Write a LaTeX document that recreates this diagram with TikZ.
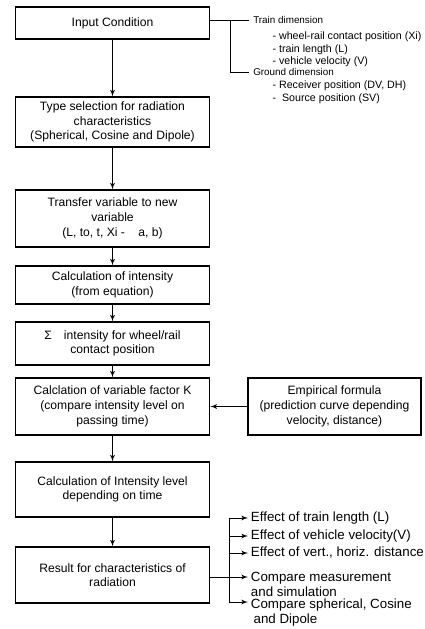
\documentclass[tikz,border=0pt]{standalone}
\usepackage{fontspec}
\setmainfont{Liberation Sans}
\usepackage{xcolor}
\usepackage{tikz}
\usetikzlibrary{arrows}

\tikzset{
  stepbox/.style={draw, line width=0.8pt, align=center, minimum width=146pt,
    font=\fontsize{9.1}{11}\selectfont},
  notetext/.style={align=left, inner sep=1pt, font=\fontsize{8}{9.4}\selectfont},
  notehead/.style={inner sep=1pt, inner xsep=3pt, font=\fontsize{7.4}{9.4}\selectfont},
  outtext/.style={align=left, inner sep=2pt, font=\fontsize{10}{11.25}\selectfont},
  link/.style={line width=0.7pt},
  flow/.style={line width=0.7pt, -latex'}
}

\begin{document}
\begin{tikzpicture}[x=0.75pt, y=-0.75pt]
\useasboundingbox (0,0) rectangle (425,629);

% Main steps
\node[stepbox, minimum height=24pt] (input) at (112.5,23) {Input Condition};
\node[stepbox, minimum height=37.5pt] (type) at (112.5,122)
  {Type selection for radiation\\characteristics\\(Spherical, Cosine and Dipole)};
\node[stepbox, minimum height=42.75pt] (transfer) at (112.5,218.5)
  {Transfer variable to new\\variable\\(L, to, t, Xi -\ \ \ \ a, b)};
\node[stepbox, minimum height=28.5pt] (calc) at (112.5,285)
  {Calculation of intensity\\(from equation)};
\node[stepbox, minimum height=32.25pt] (sum) at (112.5,343.5)
  {Σ\quad intensity for wheel/rail\\contact position};
\node[stepbox, minimum height=42.75pt] (factor) at (112.5,406.5)
  {Calclation of variable factor K\\(compare intensity level on\\passing time)};
\node[stepbox, minimum height=41.25pt] (level) at (112.5,489.5)
  {Calculation of Intensity level\\depending on time};
\node[stepbox, minimum height=42pt] (result) at (112.5,575)
  {Result for characteristics of\\radiation};

% Empirical formula
\node[stepbox, minimum width=129.75pt, minimum height=42.75pt] (empirical) at (334.5,406.5)
  {Empirical formula\\(prediction curve depending\\velocity, distance)};

% Input dimensions
\node[notehead, anchor=west] (traindim) at (249,20) {Train dimension};
\node[notetext, anchor=north west] (trainitems) at (271,30.5)
  {- wheel-rail contact position (Xi)\\- train length (L)\\- vehicle velocity (V)};
\node[notehead, anchor=west] (grounddim) at (249,72) {Ground dimension};
\node[notetext, anchor=north west] (grounditems) at (271,79.5)
  {- Receiver position (DV, DH)\\-\ \ Source position (SV)};

% Outputs
\node[outtext, anchor=west] (out1) at (248,518) {Effect of train length (L)};
\node[outtext, anchor=west] (out2) at (248,536) {Effect of vehicle velocity(V)};
\node[outtext, anchor=west] (out3) at (248,553) {Effect of vert., horiz. distance};
\node[outtext, anchor=north west] (out4) at (248,569.5)
  {Compare measurement\\and simulation};
\node[outtext, anchor=north west] (out5) at (248,595.5)
  {Compare spherical, Cosine\\\hspace{2pt}and Dipole};

% Arrows
\draw[flow] (input) -- (type);
\draw[flow] (type) -- (transfer);
\draw[flow] (transfer) -- (calc);
\draw[flow] (calc) -- (sum);
\draw[flow] (sum) -- (factor);
\draw[flow] (factor) -- (level);
\draw[flow] (level) -- (result);
\draw[flow] (empirical) -- (factor);

% Dimension bracket
\coordinate (tbr) at (230,20);
\draw[link] (input.east |- traindim.west) -- (traindim.west);
\draw[link] (tbr) |- (grounddim.west);

% Output branch
\coordinate (obr) at (229,577);
\draw[link] (result.east |- obr) -- (obr);
\draw[flow] (obr) -- (obr -| out4.west);
\draw[flow] (obr) |- (out1.west);
\draw[flow] (obr) |- (out2.west);
\draw[flow] (obr) |- (out3.west);
\draw[flow] (obr) |- ([yshift=-4.9pt]out5.north west);
\end{tikzpicture}
\end{document}
